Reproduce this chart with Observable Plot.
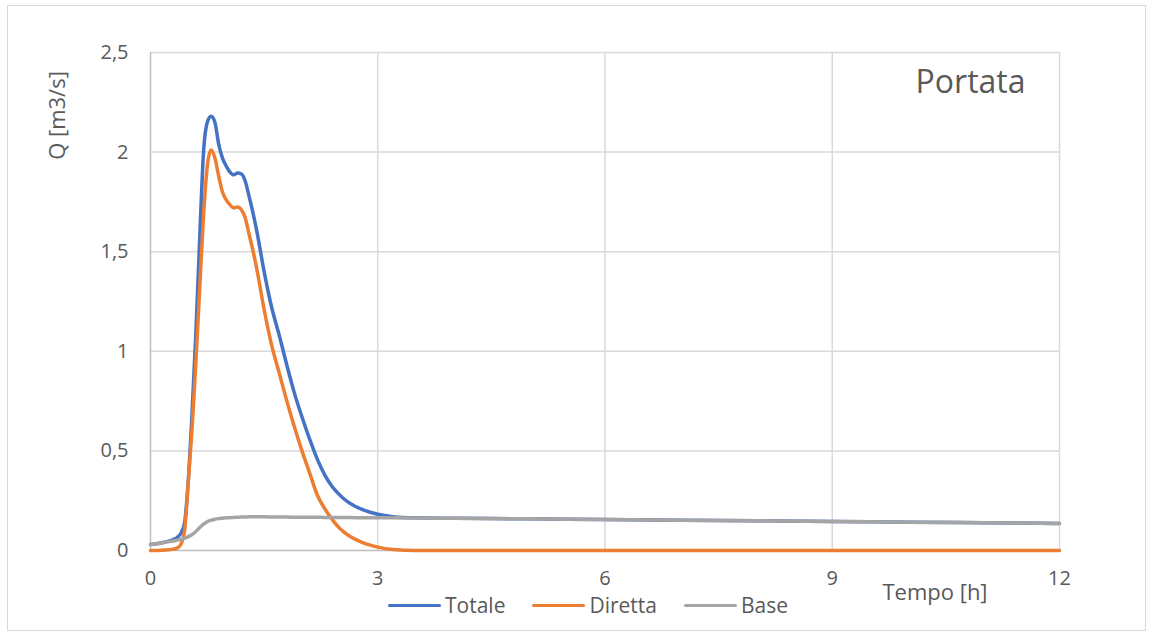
<!DOCTYPE html>
<html>
<head>
<meta charset="utf-8">
<script src="https://cdn.jsdelivr.net/npm/d3@7"></script>
<script src="https://cdn.jsdelivr.net/npm/@observablehq/plot@0.6"></script>
<style>
  html, body { margin: 0; padding: 0; background: #fff; }
  #wrap { position: relative; width: 1154px; height: 637px; font-family: "Open Sans", sans-serif; }
  #frame { position: absolute; left: 7px; top: 5px; width: 1139px; height: 626px; border: 1px solid #d9d9d9; box-sizing: border-box; pointer-events: none; }
  #legend { position: absolute; left: 388px; top: 595px; display: flex; align-items: center; font-size: 21px; line-height: 1; color: #595959; }
  .item { display: flex; align-items: center; margin-right: 27px; }
  .swatch { width: 53px; height: 3px; border-radius: 1.5px; margin-right: 4px; }
</style>
</head>
<body>
<div id="wrap">
  <div id="frame"></div>
  <div id="chart"></div>
  <div id="legend"></div>
</div>
<script>
// Time (h)
const tempo = [0, 0.1, 0.2, 0.3, 0.35, 0.4, 0.45, 0.5, 0.55, 0.6,
  0.65, 0.7, 0.75, 0.8, 0.85, 0.9, 0.95, 1.0, 1.05, 1.1,
  1.15, 1.2, 1.25, 1.3, 1.35, 1.4, 1.5, 1.6, 1.7, 1.8,
  1.9, 2.0, 2.1, 2.2, 2.3, 2.4, 2.5, 2.6, 2.7, 2.8,
  2.9, 3.0, 3.2, 3.5, 4, 5, 6, 7, 8, 9,
  10, 11, 12];

// Q [m3/s]
const totale = [0.03, 0.035, 0.043, 0.055, 0.065, 0.085, 0.14, 0.36, 0.70, 1.10,
  1.57, 2.0, 2.15, 2.18, 2.15, 2.04, 1.97, 1.93, 1.90, 1.886,
  1.895, 1.89, 1.855, 1.78, 1.70, 1.61, 1.40, 1.22, 1.08, 0.93,
  0.79, 0.67, 0.56, 0.46, 0.38, 0.32, 0.278, 0.245, 0.222, 0.205,
  0.192, 0.182, 0.17, 0.164, 0.162, 0.159, 0.155, 0.152, 0.149, 0.146,
  0.142, 0.139, 0.136];

const diretta = [0, 0, 0.002, 0.007, 0.012, 0.03, 0.1, 0.35, 0.62, 0.95,
  1.32, 1.68, 1.93, 2.01, 1.97, 1.88, 1.80, 1.76, 1.735, 1.72,
  1.725, 1.71, 1.67, 1.59, 1.51, 1.42, 1.21, 1.03, 0.89, 0.75,
  0.62, 0.50, 0.39, 0.28, 0.21, 0.155, 0.11, 0.079, 0.057, 0.04,
  0.027, 0.017, 0.005, 0, 0, 0, 0, 0, 0, 0,
  0, 0, 0];

const base = [0.03, 0.035, 0.042, 0.048, 0.052, 0.056, 0.062, 0.07, 0.08, 0.095,
  0.115, 0.132, 0.145, 0.152, 0.157, 0.160, 0.162, 0.164, 0.165, 0.166,
  0.167, 0.168, 0.168, 0.169, 0.169, 0.169, 0.169, 0.168, 0.168, 0.168,
  0.167, 0.167, 0.167, 0.167, 0.166, 0.166, 0.166, 0.166, 0.165, 0.165,
  0.165, 0.165, 0.164, 0.163, 0.162, 0.159, 0.155, 0.152, 0.149, 0.146,
  0.142, 0.139, 0.136];

const seriesNames = ["Totale", "Diretta", "Base"];
const seriesColors = ["#4472c4", "#ed7d31", "#a5a5a5"];
const xTicks = [0, 3, 6, 9, 12];
const yTicks = [0, 0.5, 1, 1.5, 2, 2.5];
const yTickLabels = ["0", "0,5", "1", "1,5", "2", "2,5"];

const seriesValues = [totale, diretta, base];
const rows = [];
seriesNames.forEach((name, i) => {
  tempo.forEach((t, j) => rows.push({series: name, t, q: seriesValues[i][j]}));
});

const textColor = "#595959";

const chart = Plot.plot({
  width: 1154,
  height: 637,
  marginLeft: 150,
  marginRight: 95,
  marginTop: 52,
  marginBottom: 87,
  style: {fontFamily: "'Open Sans', sans-serif", fontSize: "20px", color: textColor, background: "transparent"},
  x: {domain: [0, 12], ticks: xTicks, tickSize: 0, tickPadding: 20, label: null, tickFormat: d => String(d)},
  y: {domain: [0, 2.5], ticks: yTicks, tickSize: 0, tickPadding: 22, label: null,
      tickFormat: d => yTickLabels[yTicks.indexOf(d)]},
  color: {domain: seriesNames, range: seriesColors},
  marks: [
    Plot.ruleY(yTicks.filter(d => d > 0), {stroke: "#d9d9d9", strokeWidth: 1.5}),
    Plot.ruleX(xTicks.filter(d => d > 0), {stroke: "#d9d9d9", strokeWidth: 1.5}),
    Plot.ruleX([0], {stroke: "#bfbfbf", strokeWidth: 1.5}),
    Plot.ruleY([0], {stroke: "#bfbfbf", strokeWidth: 1.5}),
    Plot.line(rows, {x: "t", y: "q", z: "series", stroke: "series", strokeWidth: 3.5, curve: "monotone-x", strokeLinejoin: "round", strokeLinecap: "round"}),
    Plot.text(["Portata"], {frameAnchor: "top-right", text: d => d, textAnchor: "end", lineAnchor: "middle", dx: -34, dy: 30, fontSize: 32, fill: textColor}),
    Plot.text(["Tempo [h]"], {frameAnchor: "bottom", text: d => d, textAnchor: "middle", lineAnchor: "middle", dx: 330, dy: 42, fontSize: 22, fill: textColor}),
    Plot.text(["Q [m3/s]"], {frameAnchor: "top-left", text: d => d, textAnchor: "middle", lineAnchor: "middle", rotate: -90, dx: -93, dy: 63, fontSize: 22, fill: textColor})
  ]
});
document.getElementById("chart").appendChild(chart);

const legend = document.getElementById("legend");
seriesNames.forEach((name, i) => {
  const item = document.createElement("div");
  item.className = "item";
  const sw = document.createElement("div");
  sw.className = "swatch";
  sw.style.background = seriesColors[i];
  const lab = document.createElement("span");
  lab.textContent = name;
  item.appendChild(sw);
  item.appendChild(lab);
  legend.appendChild(item);
});
</script>
</body>
</html>
